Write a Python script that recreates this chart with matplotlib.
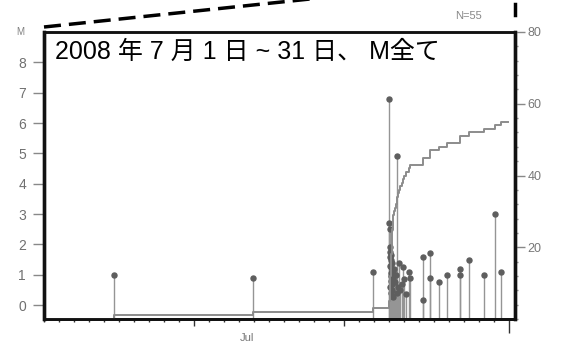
import matplotlib
matplotlib.use("Agg")
import matplotlib.pyplot as plt
from matplotlib.lines import Line2D
from matplotlib.ticker import MultipleLocator, FixedLocator, NullFormatter
import numpy as np

plt.rcParams["font.family"] = ["Liberation Sans", "Noto Sans CJK JP", "DejaVu Sans"]

# Event times (days since 2008-07-01 00:00) and magnitudes
event_day = [
    4.67, 13.93, 21.93,
    23.02, 23.03, 23.04, 23.05, 23.06, 23.07, 23.08, 23.09, 23.10, 23.11,
    23.12, 23.13, 23.14, 23.15, 23.16, 23.17, 23.18, 23.19, 23.20, 23.21,
    23.22, 23.23, 23.24, 23.25, 23.26, 23.27,
    23.33, 23.40, 23.46, 23.53, 23.56, 23.59, 23.67, 23.75, 23.84, 23.93,
    24.00, 24.13, 24.33, 24.40,
    25.27, 25.29, 25.73, 25.75, 26.33, 26.87, 27.73, 27.75, 28.33, 29.33,
    30.07, 30.47,
]
event_mag = [
    1.0, 0.9, 1.1,
    6.8, 2.7, 2.5, 1.9, 1.75, 0.6, 1.6, 1.3, 0.8, 1.5,
    0.4, 1.25, 1.05, 0.95, 1.65, 0.7, 1.2, 0.3, 0.9, 1.4,
    0.5, 0.75, 1.1, 0.25, 0.85, 1.0,
    1.2, 0.75, 1.0, 4.9, 0.4, 0.6, 1.4, 0.5, 0.7, 1.25,
    0.85, 0.35, 1.1, 0.9,
    1.6, 0.15, 1.7, 0.9, 0.75, 1.0, 1.2, 1.0, 1.5, 1.0,
    3.0, 1.1,
]
catalog_start = 0.0
catalog_end = 30.95

title = "2008 年 7 月 1 日 ~ 31 日、 M全て"
mag_ticks = [0, 1, 2, 3, 4, 5, 6, 7, 8]
count_ticks = [20, 40, 60, 80]

W, H = 562, 344
fig = plt.figure(figsize=(W / 100, H / 100), dpi=100)
ax = fig.add_axes([44 / W, 1 - 319 / H, 471 / W, 287 / H])
ax2 = ax.twinx()

ymin = -0.46
ax.set_xlim(0, 31.4)
ax.set_ylim(ymin, 9.0)
ax2.set_ylim(0, 80)

# stems with markers
ax.vlines(event_day, ymin, event_mag, color="#959595", lw=1.0, zorder=2)
ax.plot(event_day, event_mag, "o", color="#5e5e5e", ms=3.6, zorder=3)

# cumulative number
days = np.array(event_day)
cum = np.arange(1, len(days) + 1)
step_x = np.concatenate([[catalog_start], days, [catalog_end]])
step_y = np.concatenate([[0], cum, [cum[-1]]])
ax2.step(step_x, step_y, where="post", color="#8c8c8c", lw=1.4, zorder=2)

# left axis
ax.set_yticks(mag_ticks)
ax.tick_params(axis="y", which="major", length=8, width=1, color="#888888",
               labelcolor="#707070", labelsize=10, pad=5)

# bottom axis
ax.xaxis.set_major_locator(FixedLocator([10, 20, 31]))
ax.xaxis.set_minor_locator(MultipleLocator(1))
ax.xaxis.set_major_formatter(NullFormatter())
ax.tick_params(axis="x", which="major", length=5, width=1, color="#333333")
ax.tick_params(axis="x", which="minor", length=2.5, width=1, color="#333333")
ax.xaxis.get_major_ticks()[2].tick1line.set_markersize(10)

# right axis
ax2.set_yticks(count_ticks)
ax2.yaxis.set_minor_locator(MultipleLocator(4))
ax2.tick_params(axis="y", which="major", length=7, width=1, color="#888888",
                labelcolor="#777777", labelsize=9, pad=2)
ax2.tick_params(axis="y", which="minor", length=2.5, width=1, color="#888888")

for a in (ax, ax2):
    a.spines["left"].set_linewidth(2.4)
    a.spines["right"].set_linewidth(2.4)
    a.spines["bottom"].set_linewidth(2.0)
    a.spines["top"].set_linewidth(1.8)
    for s in a.spines.values():
        s.set_color("#111111")

ax.text(0.023, 0.93, title, transform=ax.transAxes, fontsize=18,
        va="center", ha="left", color="black")

fig.text(20 / W, 1 - 32 / H, "M", fontsize=7, color="#808080",
         ha="center", va="center")
fig.text(468 / W, 1 - 16 / H, "N=55", fontsize=8, color="#888888",
         ha="center", va="center")
fig.text(247 / W, 1 - 333 / H, "Jul", fontsize=8, color="#777777",
         ha="center", va="top")

# zoom indicator lines from the parent figure
fig.add_artist(Line2D([44 / W, 310 / W], [1 - 27 / H, 1 + 1 / H],
                      transform=fig.transFigure, color="black", lw=2.5,
                      linestyle=(0, (4.9, 2.3))))
fig.add_artist(Line2D([515 / W, 515 / W], [1 - 4 / H, 1 - 15 / H],
                      transform=fig.transFigure, color="black", lw=2.5))

fig.savefig("out.png", dpi=100)
